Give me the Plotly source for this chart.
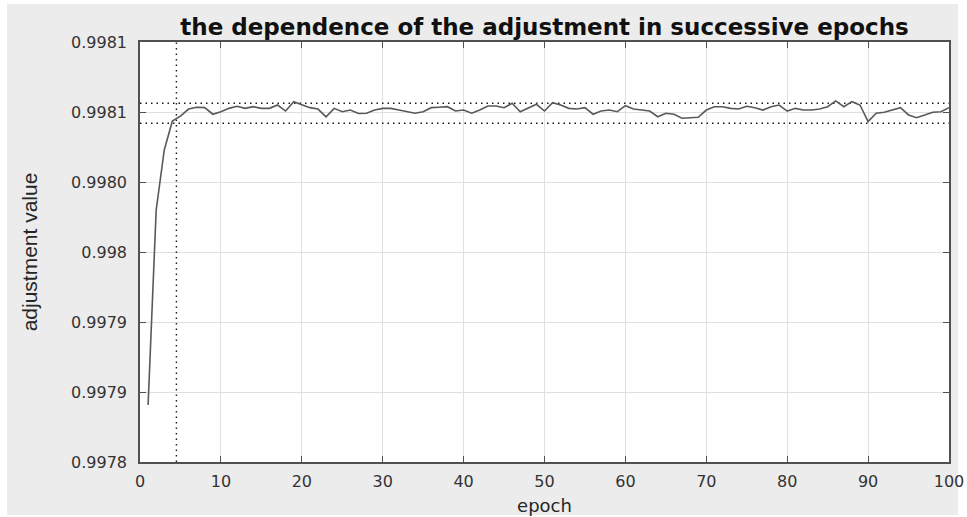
import plotly.graph_objects as go

epochs = list(range(1, 101))
adjustment = [
    0.9978407, 0.9979800, 0.9980229, 0.9980436, 0.9980471, 0.9980521, 0.9980534, 0.9980531, 0.9980484, 0.9980502,
    0.9980526, 0.9980541, 0.9980526, 0.9980538, 0.9980526, 0.9980526, 0.9980550, 0.9980507, 0.9980574, 0.9980555,
    0.9980531, 0.9980521, 0.9980466, 0.9980526, 0.9980502, 0.9980514, 0.9980489, 0.9980491, 0.9980514, 0.9980526,
    0.9980526, 0.9980514, 0.9980502, 0.9980491, 0.9980502, 0.9980531, 0.9980534, 0.9980538, 0.9980507, 0.9980514,
    0.9980491, 0.9980514, 0.9980543, 0.9980543, 0.9980531, 0.9980562, 0.9980502, 0.9980531, 0.9980555, 0.9980507,
    0.9980566, 0.9980550, 0.9980526, 0.9980521, 0.9980531, 0.9980484, 0.9980507, 0.9980514, 0.9980502, 0.9980545,
    0.9980521, 0.9980514, 0.9980507, 0.9980466, 0.9980491, 0.9980484, 0.9980455, 0.9980459, 0.9980462, 0.9980514,
    0.9980538, 0.9980538, 0.9980526, 0.9980521, 0.9980541, 0.9980531, 0.9980514, 0.9980538, 0.9980550, 0.9980507,
    0.9980526, 0.9980514, 0.9980514, 0.9980521, 0.9980538, 0.9980579, 0.9980538, 0.9980574, 0.9980550, 0.9980431,
    0.9980491, 0.9980498, 0.9980514, 0.9980531, 0.9980479, 0.9980459, 0.9980479, 0.9980498, 0.9980502, 0.9980531,
]

upper_bound = 0.9980562
lower_bound = 0.9980420
converge_epoch = 4.5

x_range = [0, 100]
y_range = [0.9978, 0.9981]
x_ticks = list(range(0, 101, 10))
y_tickvals = [0.99780, 0.99785, 0.99790, 0.99795, 0.99800, 0.99805, 0.99810]
y_ticktext = ["0.9978", "0.9979", "0.9979", "0.998", "0.9980", "0.9981", "0.9981"]

title_text = "the dependence of the adjustment in successive epochs"
x_title = "epoch"
y_title = "adjustment value"

W, H = 967, 517
ML, MR, MT, MB = 140, 18, 42, 55
pw, ph = W - ML - MR, H - MT - MB

def px_x(p):
    return (p - ML) / pw

def px_y(p):
    return (H - MB - p) / ph

fig = go.Figure()

dot_style = dict(color="#1a1a1a", width=1.4, dash="1.5px,4px")

fig.add_trace(go.Scatter(x=x_range, y=[upper_bound, upper_bound], mode="lines",
                         line=dot_style, hoverinfo="skip", showlegend=False))
fig.add_trace(go.Scatter(x=x_range, y=[lower_bound, lower_bound], mode="lines",
                         line=dot_style, hoverinfo="skip", showlegend=False))
fig.add_trace(go.Scatter(x=[converge_epoch, converge_epoch], y=y_range, mode="lines",
                         line=dot_style, hoverinfo="skip", showlegend=False))
fig.add_trace(go.Scatter(x=epochs, y=adjustment, mode="lines",
                         line=dict(color="#595959", width=1.6), showlegend=False))

fig.update_layout(
    width=W, height=H,
    margin=dict(l=ML, r=MR, t=MT, b=MB, pad=0, autoexpand=False),
    paper_bgcolor="white",
    plot_bgcolor="white",
    shapes=[
        dict(type="rect", xref="paper", yref="paper", layer="below",
             x0=px_x(7), x1=px_x(958), y0=px_y(515), y1=px_y(4),
             fillcolor="#ececec", line=dict(width=0)),
        dict(type="rect", xref="paper", yref="paper", layer="below",
             x0=0, x1=1, y0=0, y1=1, fillcolor="white", line=dict(width=0)),
    ],
    title=dict(text="<b>" + title_text + "</b>", x=px_x((ML + W - MR) / 2), xref="paper",
               xanchor="center", y=1 - 27 / H, yref="container", yanchor="middle",
               automargin=False,
               font=dict(family="DejaVu Sans", size=23, color="#111111")),
    font=dict(family="DejaVu Sans", color="#333333"),
)

axis_common = dict(
    showline=True, mirror="ticks", linecolor="#505050", linewidth=1.5,
    ticks="inside", ticklen=6, tickcolor="#505050", tickwidth=1,
    showgrid=True, gridcolor="#e0e0e0", gridwidth=1, zeroline=False,
    automargin=False,
    tickfont=dict(family="DejaVu Sans", size=16, color="#333333"),
)

fig.update_xaxes(range=x_range, tickvals=x_ticks, ticklabelstandoff=4, **axis_common,
                 title=dict(text=x_title, font=dict(family="DejaVu Sans", size=18, color="#262626"),
                            standoff=9))
fig.update_yaxes(range=y_range, tickvals=y_tickvals, ticktext=y_ticktext, ticklabelstandoff=8,
                 **axis_common,
                 title=dict(text=y_title, font=dict(family="Liberation Sans Narrow, Liberation Sans", size=21, color="#262626"),
                            standoff=28))

fig.write_html("out.html", config={"displayModeBar": False},
               post_script="document.body.style.margin='0';document.body.style.padding='0';")
